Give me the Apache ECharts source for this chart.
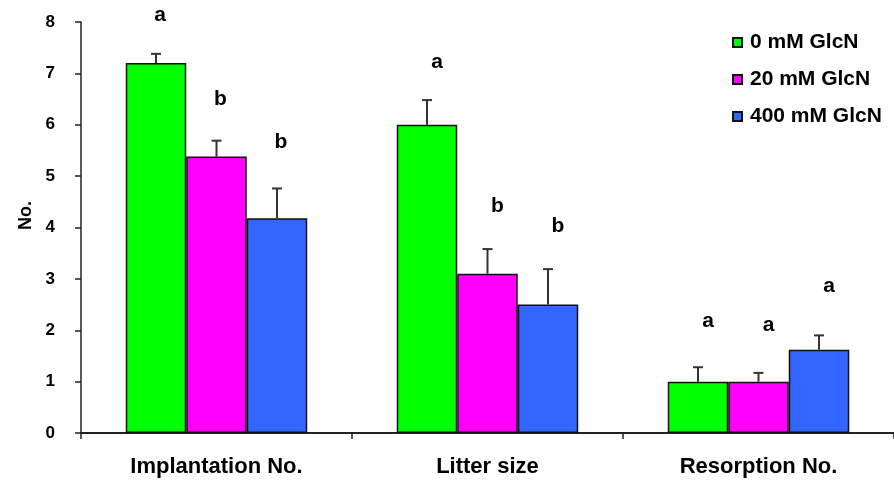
<!DOCTYPE html>
<html>
<head>
<meta charset="utf-8">
<script src="https://cdn.jsdelivr.net/npm/echarts@6/dist/echarts.min.js"></script>
<style>
  html, body { margin: 0; padding: 0; background: #fff; }
  #chart { width: 894px; height: 483px; }
</style>
</head>
<body>
<div id="chart"></div>
<script>
// Groups on the x axis
const categories = ['Implantation No.', 'Litter size', 'Resorption No.'];
// Treatment groups (legend)
const groups = ['0 mM GlcN', '20 mM GlcN', '400 mM GlcN'];
// Means per treatment, one value per category
const mean0 = [7.2, 6.0, 1.0];
const mean20 = [5.38, 3.1, 1.0];
const mean400 = [4.18, 2.5, 1.62];
// Error (SE) per treatment
const err0 = [0.18, 0.48, 0.28];
const err20 = [0.31, 0.48, 0.17];
const err400 = [0.58, 0.69, 0.28];
// Significance letters and the height (in "No." units) where each one sits
const letters0 = ['a', 'a', 'a'];
const letters20 = ['b', 'b', 'a'];
const letters400 = ['b', 'b', 'a'];
const letterAt0 = [8.14, 7.22, 2.18];
const letterAt20 = [6.50, 4.42, 2.10];
const letterAt400 = [5.66, 4.03, 2.85];
// Y axis ticks
const yTicks = [0, 1, 2, 3, 4, 5, 6, 7, 8];

const means = [mean0, mean20, mean400];
const errs = [err0, err20, err400];
const letters = [letters0, letters20, letters400];
const letterAt = [letterAt0, letterAt20, letterAt400];
const colors = ['#00FF00', '#FF00FF', '#3366FF'];

const FONT = "'Liberation Sans', Arial, sans-serif";
const BAR_W = 60.5;
// small horizontal nudge of the letters per category (px)
const letterNudge = [4, 10, 10];

const chart = echarts.init(document.getElementById('chart'), null, { renderer: 'canvas' });

const series = [];
groups.forEach(function (name, gi) {
  series.push({
    name: name,
    type: 'bar',
    barWidth: BAR_W,
    barGap: '0%',
    data: means[gi],
    itemStyle: { color: colors[gi], borderColor: '#111', borderWidth: 1.5 },
    emphasis: { disabled: true },
    z: 2
  });
});

// error bars + letters, drawn with the axes' own coordinate system
groups.forEach(function (name, gi) {
  const data = categories.map(function (c, ci) {
    return [ci, means[gi][ci], errs[gi][ci], letterAt[gi][ci]];
  });
  series.push({
    type: 'custom',
    name: name + ' err',
    data: data,
    z: 3,
    silent: true,
    renderItem: function (params, api) {
      const ci = api.value(0);
      const v = api.value(1);
      const e = api.value(2);
      const lY = api.value(3);
      const base = api.coord([ci, v]);
      const topPt = api.coord([ci, v + e]);
      const x = base[0] + (gi - 1) * BAR_W;
      const lp = api.coord([ci, lY]);
      const cap = 5;
      return {
        type: 'group',
        children: [
          {
            type: 'line',
            shape: { x1: x, y1: base[1], x2: x, y2: topPt[1] },
            style: { stroke: '#333', lineWidth: 2 }
          },
          {
            type: 'line',
            shape: { x1: x - cap, y1: topPt[1], x2: x + cap, y2: topPt[1] },
            style: { stroke: '#333', lineWidth: 2 }
          },
          {
            type: 'text',
            x: x + letterNudge[ci],
            y: lp[1],
            style: {
              text: letters[gi][ci],
              font: 'bold 21px ' + FONT,
              fill: '#000',
              align: 'center',
              verticalAlign: 'middle'
            }
          }
        ]
      };
    }
  });
});

chart.setOption({
  animation: false,
  backgroundColor: '#fff',
  grid: { left: 81, top: 22, width: 816, height: 411, containLabel: false },
  legend: {
    data: groups,
    orient: 'vertical',
    left: 732,
    top: 32,
    padding: 0,
    itemWidth: 9,
    itemHeight: 9,
    itemGap: 16,
    icon: 'rect',
    textStyle: {
      fontFamily: FONT,
      fontWeight: 'bold',
      fontSize: 21,
      lineHeight: 20,
      color: '#000',
      padding: [0, 0, 0, 3]
    },
    selectedMode: false
  },
  xAxis: {
    type: 'category',
    data: categories,
    axisLine: { lineStyle: { color: '#222', width: 2 } },
    axisTick: { show: true, length: 6, alignWithLabel: false, lineStyle: { color: '#222', width: 1.5 } },
    axisLabel: {
      margin: 23,
      fontFamily: FONT,
      fontWeight: 'bold',
      fontSize: 22,
      color: '#000'
    },
    splitLine: { show: false }
  },
  yAxis: {
    type: 'value',
    min: yTicks[0],
    max: yTicks[yTicks.length - 1],
    interval: 1,
    name: 'No.',
    nameLocation: 'middle',
    nameGap: 46,
    nameRotate: 90,
    nameTextStyle: {
      fontFamily: FONT,
      fontWeight: 'bold',
      fontSize: 18,
      color: '#000',
      padding: [0, 0, 0, 24]
    },
    axisLine: { show: true, lineStyle: { color: '#222', width: 1.5 } },
    axisTick: { show: true, length: 6, lineStyle: { color: '#222', width: 1.5 } },
    axisLabel: {
      margin: 26,
      fontFamily: FONT,
      fontWeight: 'bold',
      fontSize: 17,
      color: '#000'
    },
    splitLine: { show: false }
  },
  series: series
});
</script>
</body>
</html>
